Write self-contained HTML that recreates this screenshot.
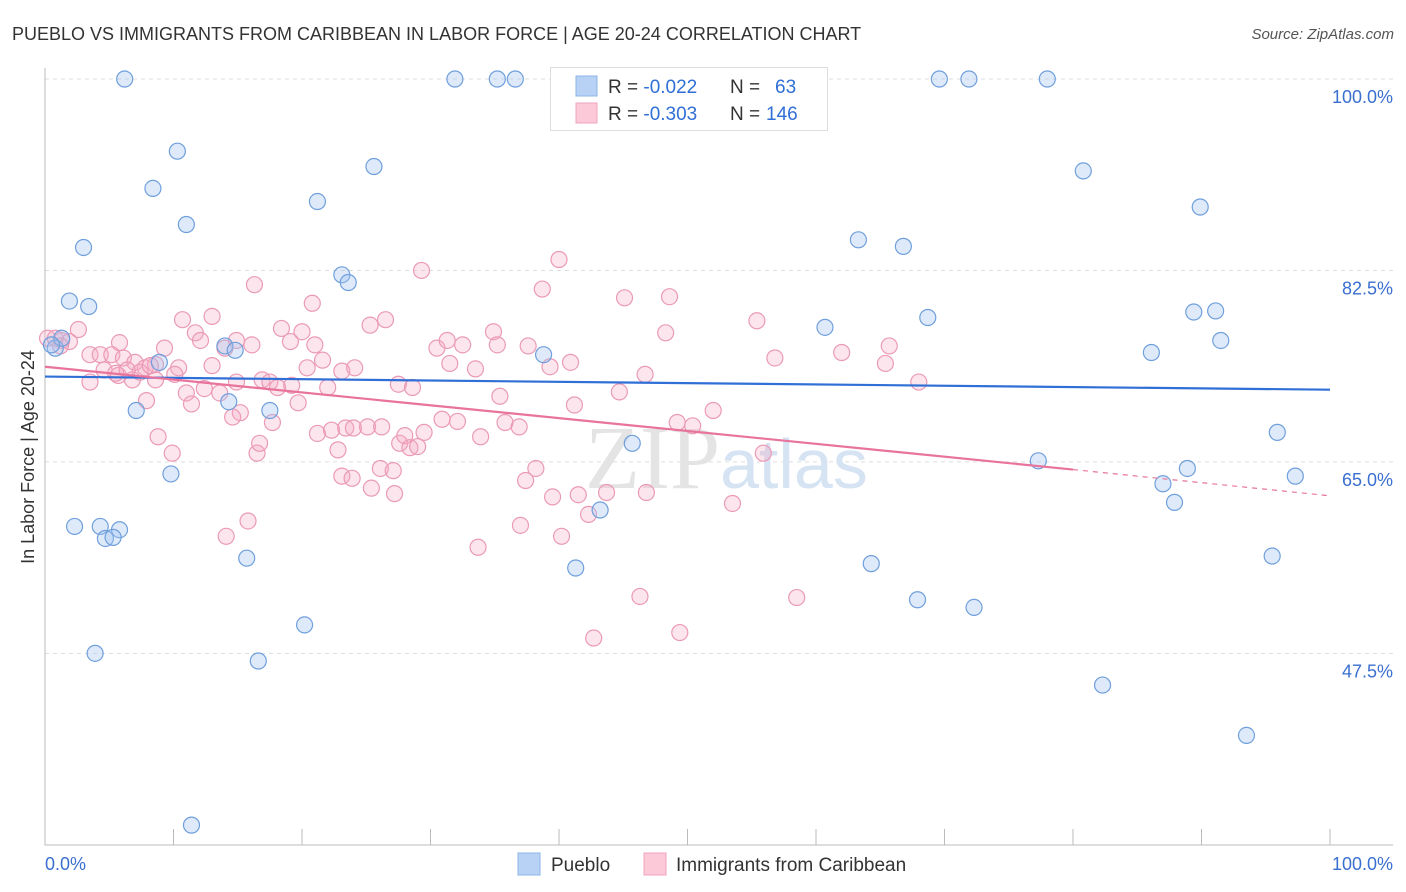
<!DOCTYPE html>
<html><head><meta charset="utf-8"><style>
body{margin:0;background:#fff;font-family:"Liberation Sans",sans-serif;}
svg{display:block}
</style></head><body>
<svg id="chart" width="1406" height="892" xmlns="http://www.w3.org/2000/svg">
<text x="12" y="40" font-size="18" fill="#333">PUEBLO VS IMMIGRANTS FROM CARIBBEAN IN LABOR FORCE | AGE 20-24 CORRELATION CHART</text>
<text x="1394" y="39" font-size="15" fill="#555" font-style="italic" text-anchor="end">Source: ZipAtlas.com</text>
<g id="grid"></g>
<text x="720" y="488" font-size="90" fill="#e4e4e4" text-anchor="end" font-family="Liberation Serif">ZIP</text>
<text x="720" y="488" font-size="70" fill="#d5e3f3">atlas</text>
<g id="pts"></g>
<g id="lines"></g>
<text transform="translate(34,457) rotate(-90)" font-size="18" fill="#333" text-anchor="middle">In Labor Force | Age 20-24</text>
<text x="45" y="870" font-size="18" fill="#3a6fd0">0.0%</text>
<text x="1393" y="870" font-size="18" fill="#3a6fd0" text-anchor="end">100.0%</text>
<g>
<rect x="550.5" y="67.5" width="277" height="63" fill="#fff" stroke="#ddd"/>
<rect x="576" y="76" width="21" height="20" fill="#b7d2f5" stroke="#8cb4e8"/>
<rect x="576" y="103" width="21" height="20" fill="#fbc9d8" stroke="#f0a4bd"/>
<text x="608" y="93" font-size="19" fill="#333">R = <tspan fill="#2f6fd6">-0.022</tspan><tspan x="730">N = </tspan><tspan x="775" fill="#2f6fd6">63</tspan></text>
<text x="608" y="120" font-size="19" fill="#333">R = <tspan fill="#2f6fd6">-0.303</tspan><tspan x="730">N = </tspan><tspan x="766" fill="#2f6fd6">146</tspan></text>
</g>
<g><rect x="518" y="853" width="22" height="22" fill="#b7d2f5" stroke="#8cb4e8"/><text x="551" y="871" font-size="19" fill="#333">Pueblo</text></g>
<g><rect x="644" y="853" width="22" height="22" fill="#fbc9d8" stroke="#f0a4bd"/><text x="676" y="871" font-size="19" fill="#333">Immigrants from Caribbean</text></g>
</svg>
<script>
const yTicks=[100,82.5,65,47.5];
const yTickLabels=["100.0%","82.5%","65.0%","47.5%"];
const xTicks=[0,10,20,30,40,50,60,70,80,90,100];
const blueX=[6.2,31.9,35.2,36.6,69.6,71.9,78.0,10.3,8.4,25.6,21.2,11.0,3.0,80.8,89.9,63.3,66.8,23.1,23.6,1.9,3.4,89.4,91.1,68.7,60.7,91.5,86.1,0.8,1.3,14.0,14.8,38.8,8.9,7.1,14.3,17.5,45.7,95.9,9.8,77.3,88.9,97.3,87.0,87.9,43.2,2.3,4.3,5.8,4.7,5.3,15.7,41.3,64.3,95.5,67.9,72.3,20.2,3.9,16.6,82.3,93.5,11.4,0.5];
const blueY=[100,100,100,100,100,100,100,93.4,90.0,92.0,88.8,86.7,84.6,91.6,88.3,85.3,84.7,82.1,81.4,79.7,79.2,78.7,78.8,78.2,77.3,76.1,75.0,75.4,76.3,75.6,75.2,74.8,74.1,69.7,70.5,69.7,66.7,67.7,63.9,65.1,64.4,63.7,63.0,61.3,60.6,59.1,59.1,58.8,58.0,58.1,56.2,55.3,55.7,56.4,52.4,51.7,50.1,47.5,46.8,44.6,40.0,31.8,75.7];
const pinkX=[0.2,0.8,1.3,1.9,2.6,1.2,3.5,4.3,5.2,5.8,6.1,7.0,7.8,8.6,9.3,10.7,11.7,13.0,12.1,14.0,14.9,16.1,16.3,18.4,19.1,20.8,20.0,21.0,21.6,25.3,26.5,29.3,30.5,31.3,32.5,34.9,35.2,37.6,40.0,38.7,45.1,48.6,48.3,55.4,56.8,62.0,65.7,65.4,68.0,3.5,4.6,5.7,6.8,7.4,8.2,8.6,10.4,11.0,11.4,12.4,13.0,13.6,14.9,15.2,16.9,17.5,18.1,19.2,19.7,20.4,22.0,23.1,24.1,27.5,28.6,31.5,33.5,35.4,39.3,40.9,41.2,44.7,46.7,52.0,49.2,50.4,7.9,8.8,9.9,14.6,16.5,16.7,17.7,21.2,22.3,22.8,23.4,24.0,25.1,26.2,27.6,28.0,28.4,29.0,29.5,30.9,32.1,33.9,35.8,36.9,38.2,37.4,39.5,41.5,43.7,46.8,53.5,55.9,23.1,23.9,25.4,26.1,27.2,27.1,14.1,15.8,33.7,37.0,40.2,42.3,46.3,49.4,42.7,58.5,5.5,6.4,10.1];
const pinkY=[76.3,76.3,76.1,76.0,77.1,75.6,74.8,74.8,74.8,75.9,74.5,74.1,73.6,73.9,75.4,78.0,76.8,78.3,76.1,75.4,76.1,75.7,81.2,77.2,76.0,79.5,76.9,75.7,74.3,77.5,78.0,82.5,75.4,76.1,75.7,76.9,75.7,75.6,83.5,80.8,80.0,80.1,76.8,77.9,74.5,75.0,75.6,74.0,72.3,72.3,73.4,72.9,72.5,73.2,73.8,72.5,73.6,71.3,70.3,71.7,73.8,71.3,72.3,69.5,72.5,72.3,71.8,72.0,70.4,73.6,71.8,73.3,73.6,72.1,71.8,74.0,73.5,71.0,73.7,74.1,70.2,71.4,73.0,69.7,68.6,68.3,70.6,67.3,65.8,69.1,65.8,66.7,68.6,67.6,67.9,66.1,68.1,68.1,68.2,68.2,66.7,67.4,66.3,66.4,67.7,68.9,68.7,67.3,68.6,68.2,64.4,63.3,61.8,62.0,62.2,62.2,61.2,65.8,63.7,63.5,62.6,64.4,62.1,64.2,58.2,59.6,57.2,59.2,58.2,60.2,52.7,49.4,48.9,52.6,73.1,73.4,73.0];
const blueTrend=[72.8,71.6];
const pinkTrend=[73.7,64.3,61.9];
const pinkSolidEnd=80;
const NS="http://www.w3.org/2000/svg";
const xs=v=>45+v*12.85, ys=v=>79+(100-v)*10.94;
function mk(t,a,p){const e=document.createElementNS(NS,t);for(const k in a)e.setAttribute(k,a[k]);p.appendChild(e);return e;}
const grid=document.getElementById('grid');
yTicks.forEach((t,i)=>{
 const l=mk('line',{x1:45,x2:1393,y1:ys(t),y2:ys(t),stroke:'#ddd','stroke-dasharray':'4,4'},grid);
 
 
 const tx=mk('text',{x:1393,y:ys(t)+24,'font-size':18,fill:'#3a6fd0','text-anchor':'end'},grid);
 tx.textContent=yTickLabels[i];
 
 
});
const ax=mk('path',{d:'M45,68V845H1393',stroke:'#bbb',fill:'none'},grid);


xTicks.forEach(t=>{
 const l=mk('line',{x1:xs(t),x2:xs(t),y1:829,y2:845,stroke:'#bbb'},grid);
 
 
});
const pts=document.getElementById('pts');
pinkX.forEach((x,i)=>{
 const c=mk('circle',{cx:xs(x),cy:ys(pinkY[i]),r:8,fill:'rgba(245,170,195,0.3)',stroke:'#eb9ab6','stroke-width':1.2},pts);
 
 
});
blueX.forEach((x,i)=>{
 const c=mk('circle',{cx:xs(x),cy:ys(blueY[i]),r:8,fill:'rgba(160,196,240,0.35)',stroke:'#6f9fdc','stroke-width':1.2},pts);
 
 
});
const ln=document.getElementById('lines');
const b=mk('line',{x1:xs(0),y1:ys(blueTrend[0]),x2:xs(100),y2:ys(blueTrend[1]),stroke:'#2f6fd6','stroke-width':2.2},ln);


const p=mk('line',{x1:xs(0),y1:ys(pinkTrend[0]),x2:xs(pinkSolidEnd),y2:ys(pinkTrend[1]),stroke:'#e8739c','stroke-width':2.2},ln);


const pd=mk('line',{x1:xs(pinkSolidEnd),y1:ys(pinkTrend[1]),x2:xs(100),y2:ys(pinkTrend[2]),stroke:'#e8739c','stroke-width':1.2,'stroke-dasharray':'5,5'},ln);


</script>
</body></html>
